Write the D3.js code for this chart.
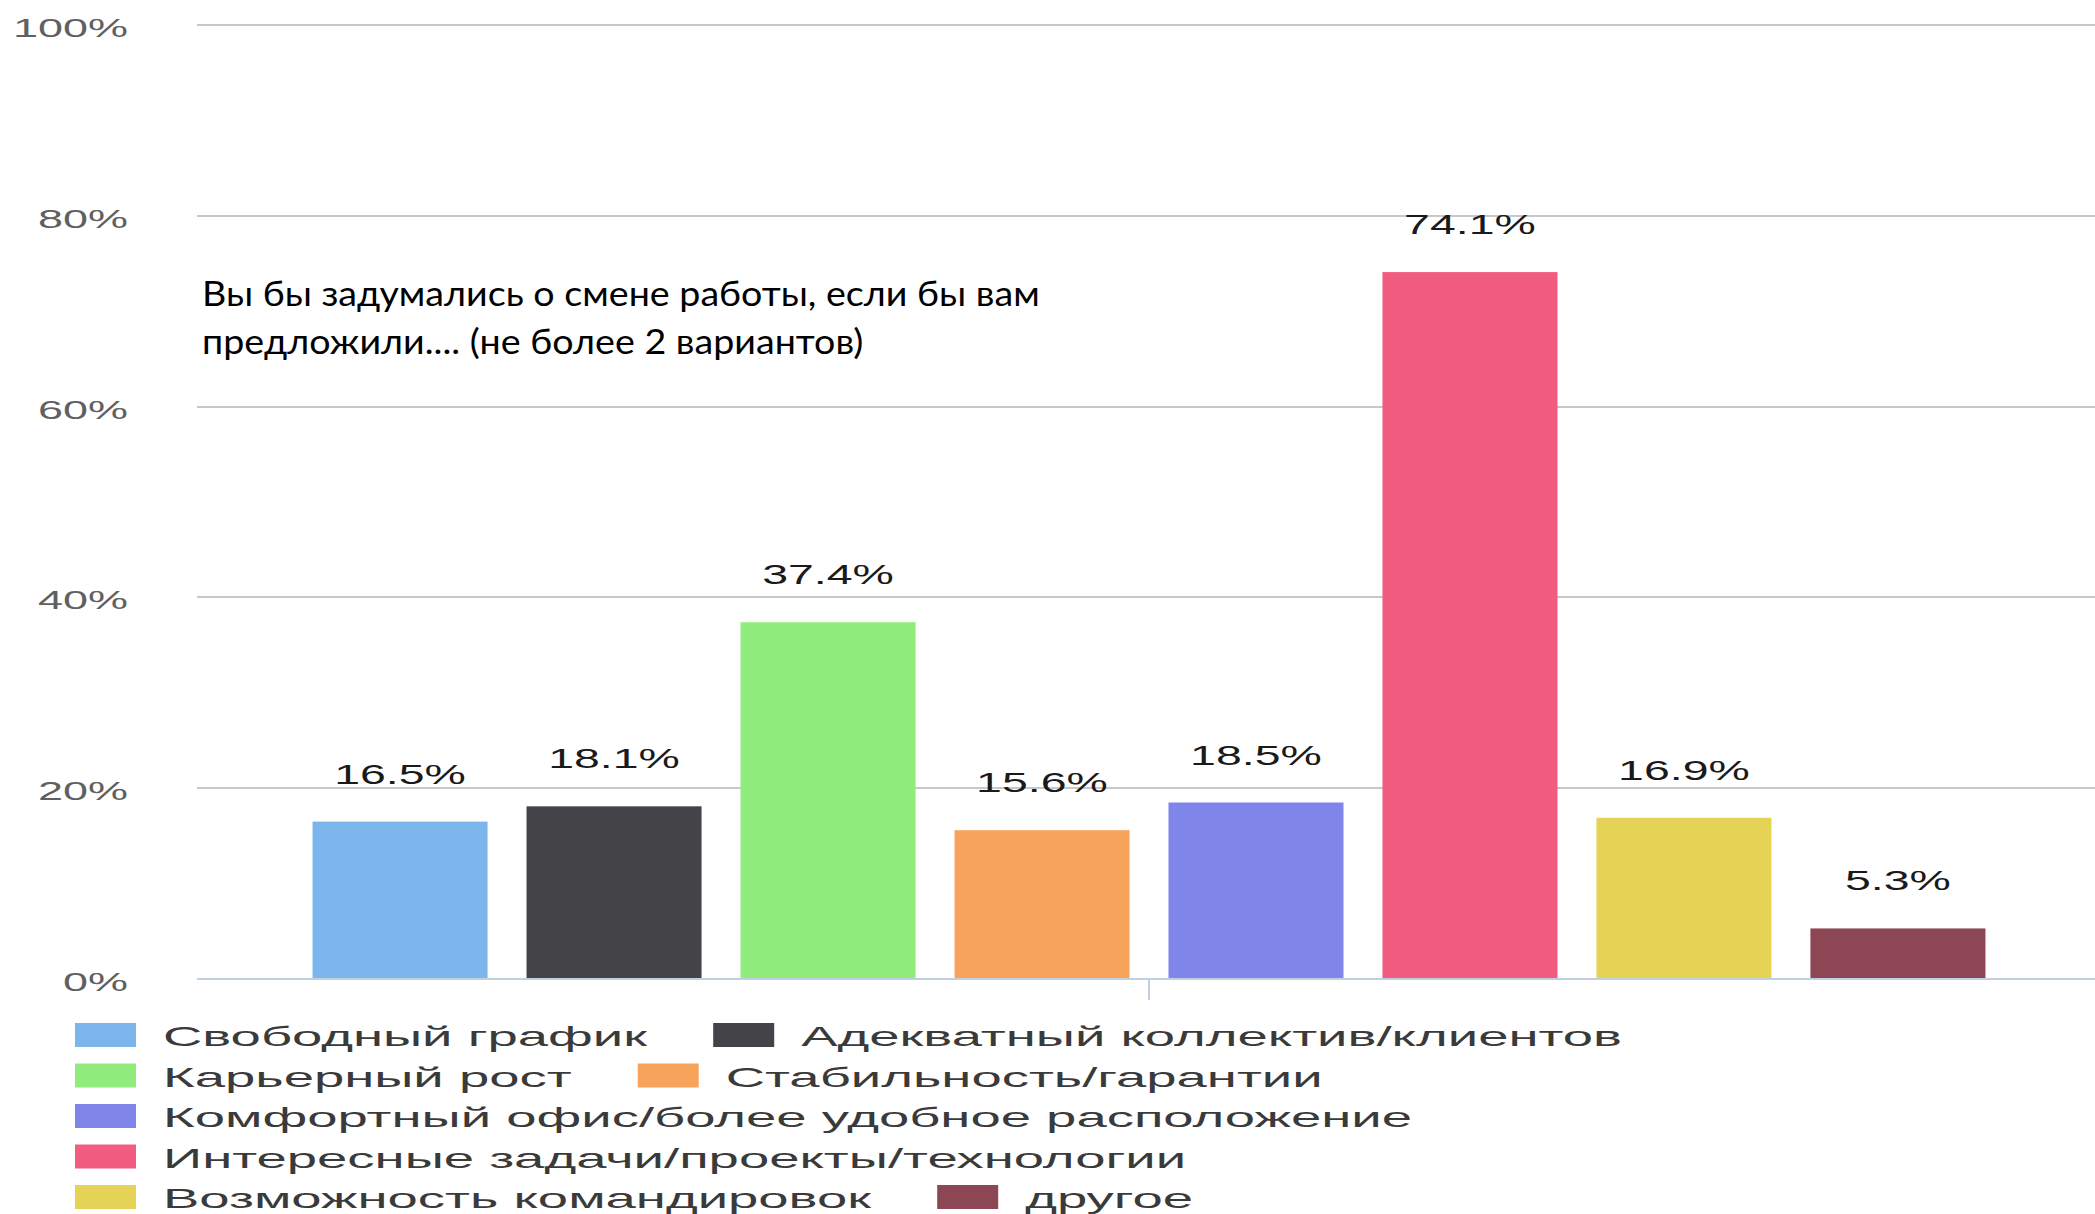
<!DOCTYPE html>
<html>
<head>
<meta charset="utf-8">
<script src="https://cdn.jsdelivr.net/npm/d3@7"></script>
<style>
  html, body { margin: 0; padding: 0; background: #ffffff; }
  svg { display: block; }
</style>
</head>
<body>
<svg id="chart" width="2095" height="1214"></svg>
<script>
// Survey answers: one column per option
const seriesNames = [
  "Свободный график",
  "Адекватный коллектив/клиентов",
  "Карьерный рост",
  "Стабильность/гарантии",
  "Комфортный офис/более удобное расположение",
  "Интересные задачи/проекты/технологии",
  "Возможность командировок",
  "другое"
];
const seriesValues = [16.5, 18.1, 37.4, 15.6, 18.5, 74.1, 16.9, 5.3];
const seriesColors = ["#7cb5ec", "#434348", "#90ed7d", "#f7a35c", "#8085e9", "#f15c80", "#e4d354", "#8d4653"];
const yTicks = [0, 20, 40, 60, 80, 100];
const titleLines = [
  "Вы бы задумались о смене работы, если бы вам",
  "предложили.... (не более 2 вариантов)"
];

const W = 2095, H = 1214;
const plot = { left: 197, right: 2101, top: 25, bottom: 979 };
const SANS = "'Liberation Sans', Arial, Helvetica, sans-serif";

const svg = d3.select("#chart");

const x = d3.scaleBand()
  .domain(seriesNames)
  .range([plot.left, plot.right])
  .paddingInner(0.182)
  .paddingOuter(0.54);

const y = d3.scaleLinear().domain([0, 100]).range([plot.bottom, plot.top]);

// horizontal grid lines
svg.append("g")
  .selectAll("line")
  .data(yTicks.filter(d => d > 0))
  .join("line")
  .attr("x1", plot.left).attr("x2", W)
  .attr("y1", d => Math.round(y(d))).attr("y2", d => Math.round(y(d)))
  .attr("stroke", "#c8c8c8")
  .attr("stroke-width", 2);

// y tick labels, drawn wide
const yLab = svg.append("g")
  .selectAll("g")
  .data(yTicks)
  .join("g")
  .attr("transform", d => `translate(128,${y(d) + 12}) scale(1.73,1)`);
yLab.append("text")
  .attr("text-anchor", "end")
  .attr("font-family", SANS)
  .attr("font-size", 26)
  .attr("fill", "#606060")
  .text(d => d + "%");

// columns
svg.append("g")
  .selectAll("rect")
  .data(seriesValues)
  .join("rect")
  .attr("x", (d, i) => x(seriesNames[i]))
  .attr("width", x.bandwidth())
  .attr("y", d => y(d))
  .attr("height", d => y(0) - y(d))
  .attr("fill", (d, i) => seriesColors[i]);

// value labels
const vLab = svg.append("g")
  .selectAll("g")
  .data(seriesValues)
  .join("g")
  .attr("transform", (d, i) => `translate(${x(seriesNames[i]) + x.bandwidth() / 2},${y(d) - 38}) scale(1.66,1)`);
vLab.append("text")
  .attr("text-anchor", "middle")
  .attr("font-family", SANS)
  .attr("font-size", 28)
  .attr("fill", "#1a1a1a")
  .text(d => d.toFixed(1) + "%");

// x axis line with a single category tick
svg.append("line")
  .attr("x1", plot.left).attr("x2", W)
  .attr("y1", plot.bottom).attr("y2", plot.bottom)
  .attr("stroke", "#c0d0e0").attr("stroke-width", 2);
const midX = (plot.left + plot.right) / 2;
svg.append("line")
  .attr("x1", midX).attr("x2", midX)
  .attr("y1", plot.bottom).attr("y2", plot.bottom + 21)
  .attr("stroke", "#c0d0e0").attr("stroke-width", 2);

// title block inside the plot
const titleG = svg.append("g");
titleLines.forEach((line, i) => {
  titleG.append("text")
    .attr("x", 202)
    .attr("y", 306 + i * 48)
    .attr("font-family", "Lato, 'Open Sans', sans-serif")
    .attr("font-size", 35)
    .attr("fill", "#000")
    .text(line);
});
// keep the first line at its set width
const t0 = titleG.select("text").node().getComputedTextLength();
const tScale = 838 / t0;
titleG.attr("transform", `translate(202,0) scale(${tScale},1) translate(-202,0)`);

// legend: items flow left to right and wrap
const LEG = { x0: 75, y0: 1023, rowH: 40.5, sw: 61, sh: 24, textGap: 88, itemGap: 66, maxRight: 1900, stretch: 1.98, fontSize: 27.5, base: 23 };
const legend = svg.append("g");
let cx = LEG.x0, row = 0;
seriesNames.forEach((name, i) => {
  const item = legend.append("g");
  const txtG = item.append("g");
  const txt = txtG.append("text")
    .attr("font-family", SANS)
    .attr("font-size", LEG.fontSize)
    .attr("fill", "#3a3a3a")
    .text(name);
  const tw = txt.node().getComputedTextLength() * LEG.stretch;
  const itemW = LEG.textGap + tw;
  if (cx > LEG.x0 && cx + itemW > LEG.maxRight) { row += 1; cx = LEG.x0; }
  const top = LEG.y0 + row * LEG.rowH;
  item.append("rect")
    .attr("x", cx).attr("y", top)
    .attr("width", LEG.sw).attr("height", LEG.sh)
    .attr("fill", seriesColors[i]);
  txtG.attr("transform", `translate(${cx + LEG.textGap},${top + LEG.base}) scale(${LEG.stretch},1)`);
  cx += itemW + LEG.itemGap;
});
</script>
</body>
</html>
